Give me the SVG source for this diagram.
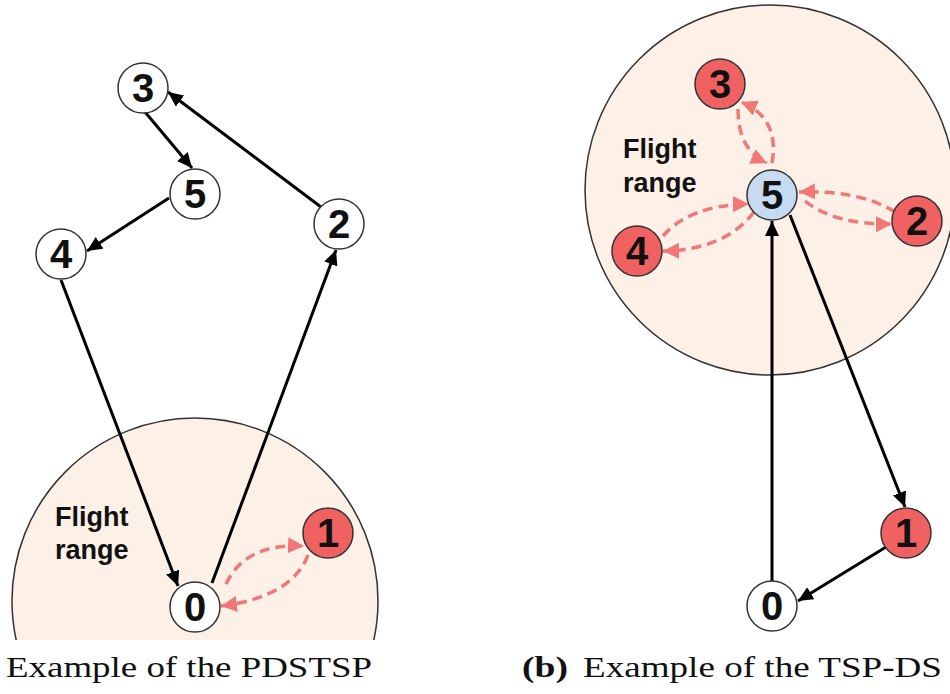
<svg xmlns="http://www.w3.org/2000/svg" width="950" height="694" viewBox="0 0 950 694">
  <style>
    .range { fill: #fdf0e7; stroke: #333; stroke-width: 1.5; }
    .node circle { stroke: #333; stroke-width: 1.5; }
    .plain circle { fill: #ffffff; }
    .red circle { fill: #f06262; }
    .blue circle { fill: #c6daf2; }
    .node text { font-family: "Liberation Sans", Arial, sans-serif; font-weight: bold; font-size: 40px; text-anchor: middle; fill: #111; }
    .label { font-family: "Liberation Sans", Arial, sans-serif; font-weight: bold; font-size: 27px; fill: #111; }
    .caption { font-family: "Liberation Serif", "Times New Roman", serif; font-size: 30px; fill: #111; }
    .solid { fill: none; stroke: #000; stroke-width: 3; marker-end: url(#ah); }
    .dash { fill: none; stroke: #f27878; stroke-width: 3.5; stroke-dasharray: 10 6; marker-end: url(#ahr); }
  </style>
  <defs>
    <marker id="ah" markerUnits="userSpaceOnUse" markerWidth="16" markerHeight="14" refX="15" refY="7" orient="auto">
      <path d="M0,0 L15,7 L0,14 z" fill="#000"/>
    </marker>
    <marker id="ahr" markerUnits="userSpaceOnUse" markerWidth="17" markerHeight="16" refX="16" refY="8" orient="auto">
      <path d="M0,0 L16,8 L0,16 z" fill="#f27878"/>
    </marker>
    <clipPath id="clipLeft">
      <rect x="0" y="0" width="420" height="640"/>
    </clipPath>
  </defs>

  <!-- flight range areas -->
  <circle class="range" cx="195" cy="601" r="183" clip-path="url(#clipLeft)"/>
  <circle class="range" cx="770" cy="190" r="185"/>

  <text class="label" x="55" y="526">Flight</text>
  <text class="label" x="55" y="559">range</text>
  <text class="label" x="623" y="158">Flight</text>
  <text class="label" x="623" y="192">range</text>

  <!-- connectors -->
  <g id="connectors">
    <path class="solid" d="M61 280 L178 586"/>
    <path class="solid" d="M212 583 L336 250"/>
    <path class="solid" d="M321 207 L168 92"/>
    <path class="solid" d="M145 112 L192 168"/>
    <path class="solid" d="M169 198 L87 251"/>

    <path class="solid" d="M772 581 L772 221"/>
    <path class="solid" d="M790 215 L905 507"/>
    <path class="solid" d="M886 547 L798 601"/>

    <path class="dash" d="M226 584 Q245 543 304 546"/>
    <path class="dash" d="M308 555 Q292 597 221 606"/>

    <path class="dash" d="M738 109 Q738 150 767 163"/>
    <path class="dash" d="M772 163 Q780 118 741 102"/>
    <path class="dash" d="M895 212 Q860 190 799 192"/>
    <path class="dash" d="M805 201 Q835 225 892 224"/>
    <path class="dash" d="M663 236 Q690 205 749 204"/>
    <path class="dash" d="M754 212 Q725 250 663 251"/>
  </g>

  <!-- PDSTSP nodes -->
  <g id="a-node-3" class="node plain"><circle cx="143" cy="88" r="25"/><text x="143" y="102">3</text></g>
  <g id="a-node-5" class="node plain"><circle cx="195" cy="194" r="25"/><text x="195" y="208">5</text></g>
  <g id="a-node-4" class="node plain"><circle cx="61" cy="254" r="25"/><text x="61" y="268">4</text></g>
  <g id="a-node-2" class="node plain"><circle cx="339" cy="224" r="25"/><text x="339" y="238">2</text></g>
  <g id="a-node-0" class="node plain"><circle cx="195" cy="607" r="25"/><text x="195" y="621">0</text></g>
  <g id="a-node-1" class="node red"><circle cx="328" cy="533" r="25"/><text x="328" y="547">1</text></g>

  <!-- TSP-DS nodes -->
  <g id="b-node-5" class="node blue"><circle cx="772" cy="195" r="25"/><text x="772" y="209">5</text></g>
  <g id="b-node-3" class="node red"><circle cx="720" cy="84" r="25"/><text x="720" y="98">3</text></g>
  <g id="b-node-2" class="node red"><circle cx="917" cy="221" r="25"/><text x="917" y="235">2</text></g>
  <g id="b-node-4" class="node red"><circle cx="637" cy="251" r="25"/><text x="637" y="265">4</text></g>
  <g id="b-node-1" class="node red"><circle cx="906" cy="533" r="25"/><text x="906" y="547">1</text></g>
  <g id="b-node-0" class="node plain"><circle cx="772" cy="606" r="25"/><text x="772" y="620">0</text></g>

  <!-- captions -->
  <text class="caption" x="6" y="677" textLength="366" lengthAdjust="spacingAndGlyphs">Example of the PDSTSP</text>
  <text class="caption" x="522" y="677" font-weight="bold" textLength="46" lengthAdjust="spacingAndGlyphs">(b)</text>
  <text class="caption" x="583" y="677" textLength="359" lengthAdjust="spacingAndGlyphs">Example of the TSP-DS</text>
</svg>
